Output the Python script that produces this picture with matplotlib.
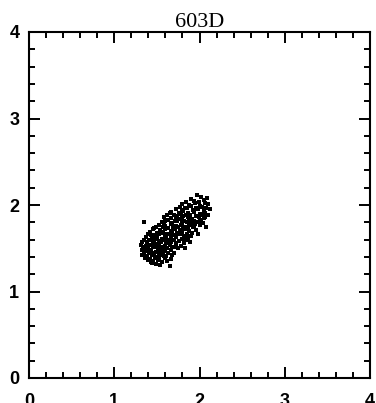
import matplotlib
matplotlib.use("Agg")
import matplotlib.pyplot as plt
from matplotlib.ticker import MultipleLocator

title = "603D"
xlim = (0, 4)
ylim = (0, 4)
tick_vals = [0, 1, 2, 3, 4]

# points, grouped in rows (x row i matches y row i)
x_rows = [
    [1.97, 2.02],
    [1.90, 2.05, 2.09],
    [1.84, 1.93, 1.99, 2.06],
    [1.80, 1.88, 1.95, 2.01, 2.10],
    [1.77, 1.83, 1.90, 1.96, 2.03, 2.08],
    [1.72, 1.79, 1.85, 1.92, 1.98, 2.05, 2.12],
    [1.67, 1.76, 1.81, 1.87, 1.94, 2.00, 2.07],
    [1.62, 1.70, 1.78, 1.84, 1.89, 1.96, 2.03, 2.10],
    [1.58, 1.66, 1.74, 1.80, 1.86, 1.91, 1.99, 2.05],
    [1.63, 1.71, 1.77, 1.82, 1.88, 1.94, 2.01],
    [1.35, 1.56, 1.68, 1.74, 1.79, 1.85, 1.90, 1.97, 2.04],
    [1.52, 1.60, 1.66, 1.72, 1.78, 1.83, 1.88, 1.93, 2.00],
    [1.49, 1.57, 1.63, 1.69, 1.75, 1.81, 1.86, 1.92, 2.08],
    [1.45, 1.54, 1.60, 1.66, 1.71, 1.77, 1.82, 1.88, 1.96],
    [1.42, 1.50, 1.57, 1.62, 1.68, 1.74, 1.79, 1.85, 1.91],
    [1.40, 1.47, 1.53, 1.59, 1.65, 1.70, 1.76, 1.82, 1.98],
    [1.37, 1.44, 1.50, 1.56, 1.61, 1.67, 1.73, 1.79, 1.86],
    [1.35, 1.41, 1.47, 1.53, 1.58, 1.64, 1.70, 1.76, 1.89],
    [1.33, 1.39, 1.45, 1.50, 1.55, 1.61, 1.67, 1.73, 1.82],
    [1.31, 1.37, 1.42, 1.48, 1.53, 1.59, 1.65, 1.71, 1.78],
    [1.34, 1.40, 1.45, 1.51, 1.56, 1.62, 1.68, 1.75, 1.83],
    [1.32, 1.38, 1.43, 1.49, 1.54, 1.60, 1.66],
    [1.35, 1.41, 1.46, 1.52, 1.57, 1.63, 1.70],
    [1.33, 1.39, 1.44, 1.50, 1.55, 1.61],
    [1.36, 1.42, 1.48, 1.53, 1.59, 1.66],
    [1.40, 1.46, 1.51, 1.56],
    [1.44, 1.49, 1.54],
    [1.65],
    [1.65, 1.81, 1.93, 2.07],
    [1.60, 1.73, 1.89, 2.02],
    [1.47, 1.58, 1.70, 1.84, 1.95],
    [1.43, 1.56, 1.67, 1.80, 1.90],
    [1.38, 1.48, 1.62, 1.72, 1.84],
    [1.35, 1.46, 1.57, 1.69],
    [1.37, 1.47, 1.58, 1.68],
    [1.43, 1.52, 1.62],
]
y_rows = [
    [2.11, 2.09],
    [2.07, 2.06, 2.08],
    [2.03, 2.05, 2.04, 2.02],
    [2.01, 2.00, 2.02, 1.99, 2.01],
    [1.98, 1.97, 1.99, 1.96, 1.98, 1.97],
    [1.95, 1.94, 1.96, 1.94, 1.95, 1.93, 1.95],
    [1.92, 1.91, 1.93, 1.91, 1.92, 1.90, 1.91],
    [1.89, 1.88, 1.90, 1.88, 1.89, 1.87, 1.89, 1.88],
    [1.86, 1.85, 1.87, 1.85, 1.86, 1.84, 1.86, 1.85],
    [1.83, 1.82, 1.84, 1.82, 1.83, 1.81, 1.83],
    [1.80, 1.80, 1.79, 1.81, 1.79, 1.80, 1.78, 1.80, 1.79],
    [1.77, 1.76, 1.78, 1.76, 1.77, 1.75, 1.77, 1.76, 1.77],
    [1.74, 1.75, 1.73, 1.75, 1.74, 1.73, 1.75, 1.74, 1.75],
    [1.72, 1.71, 1.72, 1.70, 1.72, 1.71, 1.72, 1.70, 1.71],
    [1.69, 1.68, 1.69, 1.67, 1.69, 1.68, 1.69, 1.67, 1.68],
    [1.66, 1.65, 1.66, 1.64, 1.66, 1.65, 1.66, 1.64, 1.66],
    [1.63, 1.62, 1.63, 1.61, 1.63, 1.62, 1.63, 1.61, 1.62],
    [1.60, 1.59, 1.60, 1.58, 1.60, 1.59, 1.60, 1.58, 1.57],
    [1.57, 1.56, 1.57, 1.55, 1.57, 1.56, 1.57, 1.55, 1.56],
    [1.54, 1.53, 1.54, 1.52, 1.54, 1.53, 1.54, 1.52, 1.53],
    [1.51, 1.50, 1.51, 1.49, 1.51, 1.50, 1.51, 1.50, 1.50],
    [1.48, 1.47, 1.48, 1.46, 1.48, 1.47, 1.48],
    [1.45, 1.44, 1.45, 1.43, 1.45, 1.44, 1.45],
    [1.42, 1.41, 1.42, 1.40, 1.42, 1.41],
    [1.39, 1.38, 1.39, 1.37, 1.39, 1.38],
    [1.36, 1.35, 1.36, 1.34],
    [1.33, 1.32, 1.31],
    [1.29],
    [1.905, 1.875, 1.915, 1.865],
    [1.815, 1.845, 1.825, 1.805],
    [1.735, 1.765, 1.745, 1.725, 1.785],
    [1.655, 1.675, 1.635, 1.665, 1.645],
    [1.575, 1.605, 1.585, 1.565, 1.595],
    [1.495, 1.525, 1.485, 1.515],
    [1.415, 1.435, 1.405, 1.425],
    [1.345, 1.365, 1.355],
]

xs = [v for row in x_rows for v in row]
ys = [v for row in y_rows for v in row]

fig = plt.figure(figsize=(3.76, 4.03), dpi=100)
ax = fig.add_axes([29 / 376, 25 / 403, 341 / 376, 346 / 403])

ax.scatter(xs, ys, s=6, marker="s", c="black", linewidths=0)

ax.set_xlim(*xlim)
ax.set_ylim(*ylim)
ax.set_xticks(tick_vals)
ax.set_yticks(tick_vals)
ax.xaxis.set_minor_locator(MultipleLocator(0.2))
ax.yaxis.set_minor_locator(MultipleLocator(0.2))
ax.tick_params(which="both", direction="in", top=True, right=True, width=1.4, color="black")
ax.tick_params(which="major", length=8)
ax.tick_params(which="minor", length=4.3)
ax.tick_params(axis="x", pad=11)
ax.tick_params(axis="y", pad=7)
for lab in ax.get_xticklabels() + ax.get_yticklabels():
    lab.set_fontfamily("Liberation Sans")
    lab.set_fontsize(13)
    lab.set_fontweight("bold")
for sp in ax.spines.values():
    sp.set_linewidth(1.5)

ax.set_title(title, fontfamily="Liberation Serif", fontsize=16, pad=2)

fig.savefig("out.png", dpi=100)
